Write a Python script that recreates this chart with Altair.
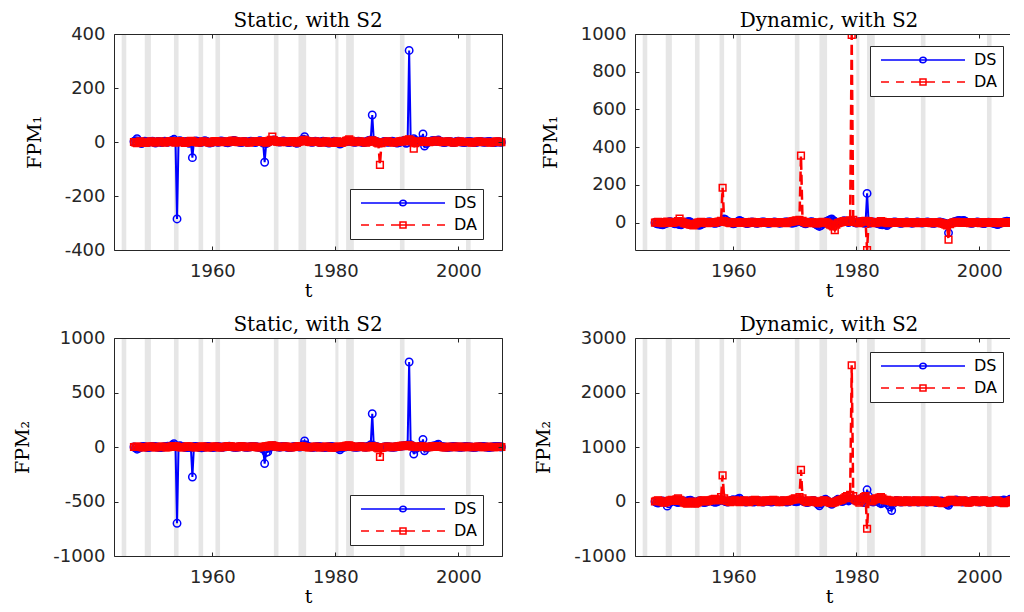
import altair as alt
import pandas as pd

# quarterly time axis 1947.25 ... 2007.00
t = [round(1947.25 + 0.25 * i, 2) for i in range(240)]

# recession bands (shaded)
rec_start = [1945.25, 1949.0, 1953.75, 1957.75, 1960.5, 1970.0, 1974.0, 1980.0, 1981.75, 1990.5, 2001.25]
rec_end = [1946.0, 1950.0, 1954.5, 1958.5, 1961.25, 1970.75, 1975.25, 1980.5, 1983.0, 1991.25, 2002.0]

series_names = ["DS", "DA"]
x_ticks = [1960, 1980, 2000]

# ---- FPM1, static ----
fpm1_static_ds = [
    2, 5, 12, 4, -3, -6, -2, 3, 1, -2, 0, 2, 3, -1, -4, 1, 2, 0, -2, 1,
    3, 1, -1, 2, 4, 6, 10, 4, -285, 3, 5, 2, -1, 0, 2, -3, -5, -2, -58, 2,
    4, 3, 1, -2, -1, 2, 5, 3, 0, -4, -3, -1, 1, 2, 0, -1, 3, 4, 2, 1,
    -2, -3, 0, 1, 3, 6, 4, 2, 0, -1, -2, 1, 2, 0, -1, 1, 3, 2, 0, -2,
    1, 3, 5, 2, -4, -75, -6, -3, 2, 4, 6, 8, 5, 3, 1, 0, 2, 4, 3, 1,
    -1, -2, 0, 2, 1, -3, -5, -2, 3, 6, 10, 20, 8, 4, 2, 0, -1, 1, 3, 2,
    0, -2, 1, 3, 2, 0, -3, -4, -2, 1, 3, 2, -1, -4, -8, -5, -2, 1, 3, 2,
    4, 3, 1, 0, -1, 2, 3, 1, 0, -2, -1, 1, 4, 6, 8, 100, 6, 3, 1, -1,
    -3, -2, 0, 2, 1, -1, 0, 2, 3, 1, -2, -4, -3, -1, 2, 4, 6, -5, -3, 339,
    8, 5, 12, 6, 2, 0, 3, 8, 30, -15, -6, -2, 1, 3, 5, 6, 4, 2, 8, 3,
    1, -1, -2, 0, 1, 2, 1, -1, -2, 0, 2, 3, 1, 0, -1, -2, 0, 1, 2, 1,
    0, -1, -2, -1, 1, 2, 1, 0, -1, 0, 1, 2, 1, -1, -2, -1, 0, 1, 0, -1,
]
fpm1_static_da = [
    0, -2, -4, -1, 2, 1, -1, -3, -2, 0, 1, 2, 1, -1, -2, 0, 1, 2, 0, -1,
    -2, 0, 1, 2, 3, 1, -1, -2, 0, 2, 3, 1, -1, -3, -2, 0, 2, 4, 3, 1,
    0, -1, -2, 0, 1, 2, 1, 0, -1, -2, -1, 1, 2, 3, 1, 0, -1, 0, 2, 1,
    0, -1, 1, 3, 5, 4, 2, 0, -1, 0, 1, 2, 1, 0, -1, -2, 0, 1, 2, 1,
    0, 1, 2, 3, 1, -1, -2, 0, 4, 8, 20, 6, 3, 1, 0, -1, 1, 2, 1, 0,
    -1, 0, 2, 3, 1, -1, -2, 0, 2, 4, 6, 8, 4, 2, 0, -1, 0, 1, 2, 1,
    0, -1, -2, -1, 1, 2, 1, -1, -2, -3, -1, 1, 2, 1, -2, -3, -1, 1, 4, 6,
    10, 5, 2, 0, -1, 0, 1, 2, 1, 0, -1, -2, 0, 2, 4, 6, 3, 1, -2, -5,
    -85, -4, -1, 0, 1, 2, 1, 0, -1, -2, -1, 0, 1, 2, 3, 4, 2, 5, 8, 10,
    6, 3, -25, -4, 0, 2, 1, 0, 3, 2, 1, 0, -1, 0, 2, 3, 4, 5, 3, 1,
    0, -1, 0, 1, 2, 1, 0, -1, -2, -1, 0, 1, 2, 1, 0, -1, 0, 1, 0, -1,
    -2, -1, 0, 1, 2, 1, 0, -1, 0, 1, 0, -1, -2, -1, 0, 1, 2, 1, 0, -1,
]

# ---- FPM1, dynamic ----
fpm1_dynamic_ds = [
    0, -5, -8, -6, -10, -12, -8, -4, -2, 3, 5, 2, -3, -6, -4, -8, -10, -12, -6, -2,
    2, 4, 6, 3, -2, -5, -8, -10, -12, -14, -10, -6, -3, 0, 2, 4, 3, 1, -2, -4,
    -2, 0, 3, 6, 10, 20, 15, 8, 4, 2, -3, -6, -4, 0, 6, 12, 8, 4, 0, -3,
    -5, -2, 0, 3, 2, -1, -4, -3, 0, 2, 4, 3, 1, -2, -4, -2, 0, 2, 3, 1,
    -1, -3, -2, 0, 2, 4, 3, 1, -1, -3, -2, 0, 3, 6, 8, 4, 0, -4, -6, -3,
    0, 3, 5, 2, -5, -10, -15, -20, -15, -8, -2, 4, 8, 12, 16, 20, 12, 6, 2, -2,
    0, 4, 6, 10, 8, 4, 0, 6, 10, 4, 0, -2, 2, 5, 4, 0, -4, -2, 155, 0,
    -3, 2, 4, 1, -2, -5, -8, -10, -12, -10, -12, -15, -8, -4, 0, 2, 4, 2, 0, -2,
    -4, -2, 0, 2, 3, 1, -1, -3, -2, 0, 2, 3, 1, -1, -2, 0, 1, 3, 2, 0,
    -2, -4, -3, -1, 1, 3, 2, 0, -2, -4, -8, -54, -6, -2, 2, 5, 8, 10, 12, 8,
    10, 12, 6, 2, 0, -2, -4, -2, 0, 2, 3, 1, -1, -3, -5, -3, 0, 2, 1, -1,
    -3, -5, -8, -10, -6, -2, 0, 3, 5, 8, 6, 3, 0, -2, -4, -2, 0, 2, 4, 2,
]
fpm1_dynamic_da = [
    0, 2, 4, 2, 0, -2, 0, 3, 5, 3, 1, -1, 0, 2, 4, 8, 22, 6, 2, -2,
    -4, -6, -8, -10, -12, -15, -8, -4, 0, 2, 4, 3, 1, 0, -2, 0, 2, 3, 1, 0,
    2, 4, 6, 10, 185, 8, 4, 2, 0, -2, 0, 2, 3, 1, 0, -1, 1, 3, 2, 0,
    -2, 0, 2, 4, 3, 1, 0, -2, 0, 2, 3, 1, 0, -1, 1, 2, 1, 0, -2, -1,
    0, 2, 3, 1, 0, -2, 0, 2, 4, 6, 8, 10, 12, 8, 15, 355, 10, 4, 0, -2,
    0, 2, 3, 1, -2, -4, -2, 0, 2, 4, 3, 1, 0, -5, -10, -15, -20, -40, -10, -2,
    0, 3, 5, 8, 10, 6, 4, 12, 995, 15, 6, 2, 0, -2, 3, 6, 8, 10, -145, 8,
    4, 2, 0, -2, -1, 2, 4, 8, 6, 3, 1, 0, -2, 0, 2, 3, 1, 0, -1, 1,
    2, 1, 0, -2, -1, 1, 2, 1, 0, -1, -2, 0, 2, 1, 0, -1, 1, 2, 1, 0,
    -2, -1, 0, 2, 1, 0, -2, -4, -6, -10, -15, -90, -8, -2, 0, 2, 4, 3, 1, 0,
    -1, 0, 2, 1, 0, -2, -1, 1, 2, 1, 0, -1, -2, 0, 2, 1, 0, -1, 0, 1,
    2, 1, 0, -1, -2, -1, 0, 1, 2, 1, 0, -1, 0, 1, 2, 1, 0, -1, -2, -4,
]

# ---- FPM2, static ----
fpm2_static_ds = [
    0, -8, -20, -12, -5, 2, 6, 3, -2, -5, -3, 0, 4, 6, 3, 0, -3, -6, -4, 0,
    3, 5, 8, 6, 10, 18, 30, 12, -700, 8, 12, 6, 2, -3, -6, -4, 0, -5, -275, 4,
    6, 3, -2, -6, -8, -4, 0, 3, 5, 2, -2, -5, -3, 0, 4, 2, 0, -3, -2, 1,
    3, 5, 8, 4, 0, -2, -4, -2, 0, 3, 5, 3, 0, -3, -2, 0, 2, 4, 6, 3,
    0, -2, -6, -10, -20, -152, -50, -45, -10, 4, 8, 12, 6, 3, 0, -2, 2, 5, 4, 0,
    -3, -6, -4, 0, 3, 6, 4, 2, 0, 8, 20, 55, 18, 6, 2, -2, -4, -2, 0, 2,
    4, 2, 0, -3, -5, -3, 0, 2, 4, 2, 0, -4, -8, -12, -25, -10, -4, 0, 3, 6,
    10, 6, 2, 0, -3, -2, 0, 2, 4, 2, 0, -2, 5, 10, 20, 305, 12, 6, 2, -2,
    -6, -4, -2, 0, 2, 3, 1, -1, -3, -2, 0, 2, 4, 6, 8, 10, 12, 15, 18, 780,
    20, 12, -65, -20, -5, 0, 6, 12, 70, -35, -10, -3, 0, 4, 8, 10, 12, 18, 25, 10,
    4, 2, 0, -2, -4, -2, 0, 2, 4, 3, 1, -1, -3, -2, 0, 2, 4, 3, 1, 0,
    -2, -4, -3, -1, 1, 3, 5, 4, 2, 0, -2, -4, -2, 0, 2, 4, 6, 4, 2, 0,
]
fpm2_static_da = [
    0, 2, 4, 2, 0, -2, -4, -2, 0, 2, 4, 3, 1, -1, -3, -2, 0, 2, 3, 1,
    -1, -3, -2, 0, 3, 5, 8, 6, 3, 0, -2, -4, -2, 0, 3, 5, 4, 2, 0, -2,
    -4, -2, 0, 2, 4, 3, 1, -1, -3, -2, 0, 2, 4, 3, 1, -1, -3, -2, 0, 2,
    4, 6, 8, 5, 2, 0, -2, -1, 1, 3, 5, 3, 1, -1, -2, 0, 2, 4, 3, 1,
    -1, -3, -2, 0, 2, 4, 6, 8, 10, 12, 15, 10, 6, 3, 0, -2, 0, 2, 4, 3,
    1, -1, -3, -2, 0, 2, 4, 6, 8, 6, 4, 2, 0, -2, -4, -2, 0, 2, 3, 1,
    -1, -3, -2, 0, 2, 3, 1, -1, -3, -5, -3, -1, 1, 3, 2, 0, 2, 6, 10, 12,
    15, 8, 3, 0, -2, 0, 2, 4, 3, 1, -1, -3, -2, 0, 3, 6, 4, 2, -5, -12,
    -90, -8, -3, 0, 2, 3, 1, -1, -2, 0, 2, 4, 6, 8, 10, 12, 10, 8, 12, 15,
    10, 6, 3, 0, -2, 0, 3, 5, 4, 2, 0, -2, -1, 1, 3, 5, 6, 8, 5, 2,
    0, -2, -3, -1, 1, 2, 1, 0, -2, -1, 1, 3, 2, 0, -2, -1, 1, 2, 1, 0,
    -1, -2, 0, 2, 3, 1, 0, -1, -2, 0, 1, 2, 1, 0, -1, -2, 0, 1, 2, 0,
]

# ---- FPM2, dynamic ----
fpm2_dynamic_ds = [
    0, -20, -30, -15, 5, 10, 0, -20, -85, -40, -10, 10, 20, 5, -10, -20, -5, 10, 15, 5,
    -5, 10, 20, 25, 10, -10, -25, -15, 0, 15, 5, -10, -20, -15, 0, 10, 20, 10, -5, -15,
    -10, 5, 20, 30, 25, 10, 0, -10, -5, 10, 25, 35, 20, 30, 45, 60, 30, 10, 0, -10,
    -5, 5, 10, 0, -10, -5, 5, 15, 10, 0, -10, -5, 5, 10, 5, -5, -10, 0, 10, 5,
    0, -5, 5, 10, 5, -5, -10, 0, 10, 15, 10, 0, -5, 5, 15, 20, 10, 0, -10, -20,
    -10, 0, 10, 20, 10, -20, -50, -80, -40, 0, 30, 40, 20, -10, -30, -50, -30, 0, 20, 40,
    30, 10, 0, 20, 40, 30, 10, 30, 50, 40, 20, 10, 30, 40, 20, 0, -20, 60, 215, 100,
    20, 0, -10, 10, 20, 10, -20, -40, -30, 0, 10, -20, -60, -100, -165, -40, 0, 20, 10, 0,
    -10, -5, 5, 10, 5, -5, -10, 0, 10, 5, 0, -10, -5, 5, 10, 5, -5, -10, 0, 10,
    5, 0, -10, -20, -10, 0, 10, 5, -10, -30, -50, -70, -30, 0, 10, 20, 30, 20, 10, 0,
    -10, 0, 10, 5, -5, -10, 0, 10, 20, 10, 0, -10, -5, 5, 10, 5, -5, -10, -5, 5,
    10, 5, 0, -10, -5, 10, 20, 30, 20, 10, 25, 40, 20, 10, 30, 50, 60, 40, 20, 10,
]
fpm2_dynamic_da = [
    0, 10, 20, 10, 0, -10, -20, -10, 0, 10, 20, 30, 20, 10, 40, 60, 30, 10, 0, -20,
    -30, -40, -20, -10, 0, -20, -40, -30, -10, 0, 10, 20, 15, 5, 0, 10, 20, 30, 40, 50,
    30, 20, 40, 80, 480, 60, 20, 10, 0, -10, 0, 10, 20, 10, 0, -10, 0, 10, 20, 10,
    0, -10, 0, 10, 20, 30, 20, 10, 0, -10, 0, 10, 20, 10, 0, 10, 20, 30, 20, 10,
    0, -10, 0, 10, 20, 10, 0, 10, 20, 30, 40, 60, 50, 40, 80, 580, 60, 20, 0, -10,
    0, 10, 20, 10, 0, -10, -20, -10, 0, 10, 20, 10, 0, -10, -20, -30, -20, -10, 0, 10,
    20, 30, 40, 60, 80, 100, 60, 120, 2500, 100, 40, 20, 0, -20, 20, 60, 80, 100, -500, 40,
    20, 0, 20, 40, 60, 50, 70, 80, 60, 30, 20, 30, 20, 10, 0, -10, 0, 10, 20, 10,
    0, -10, 0, 10, 20, 10, 0, -10, 0, 10, 20, 10, 0, -10, 0, 10, 20, 10, 0, -10,
    0, 10, 20, 10, 0, -10, -20, -30, -20, -10, 0, 10, 20, 30, 20, 10, 0, -10, 0, 10,
    20, 10, 0, -10, -20, -10, 0, 10, 20, 10, 0, -10, 0, 10, 20, 10, 0, -10, -20, -10,
    0, 10, 20, 10, 0, -10, -20, -30, -20, -10, 0, 10, 20, 10, 0, -20, -40, -60, -80, -100,
]

for name, arr in [("fpm1_static_ds", fpm1_static_ds), ("fpm1_static_da", fpm1_static_da),
                  ("fpm1_dynamic_ds", fpm1_dynamic_ds), ("fpm1_dynamic_da", fpm1_dynamic_da),
                  ("fpm2_static_ds", fpm2_static_ds), ("fpm2_static_da", fpm2_static_da),
                  ("fpm2_dynamic_ds", fpm2_dynamic_ds), ("fpm2_dynamic_da", fpm2_dynamic_da)]:
    if len(arr) != len(t):
        raise ValueError(f"{name} has {len(arr)} values")

BLUE = "#0000ff"
RED = "#ff0000"
AXC = "#262626"

# legend symbols: line + marker (MATLAB style), in symbol units (1 unit = 5 px)
LEG_DS = "M-8.4,0L8.4,0M-0.65,0A0.65,0.55,0,1,0,0.65,0A0.65,0.55,0,1,0,-0.65,0"
LEG_DA = ("M-8.4,0L-6.8,0M-5.4,0L-3.8,0M-2.4,0L2.4,0M3.8,0L5.4,0M6.8,0L8.4,0"
          "M-0.6,-0.6L0.6,-0.6L0.6,0.6L-0.6,0.6Z")
LEG_SHAPE_EXPR = f"datum.value === 'DS' ? '{LEG_DS}' : '{LEG_DA}'"

NEG_TICK = {"expr": "-4"}
LEFT_W, RIGHT_W = 388, 375
LEFT_DOM = [1944, 2007.1]
RIGHT_DOM = [1944, 2005.0]


def panel(title, ytitle, ds, da, ydom, yvals, lx, ly, height, left_col):
    df = pd.DataFrame({
        "t": t + t,
        "v": ds + da,
        "series": [series_names[0]] * len(t) + [series_names[1]] * len(t),
    })
    bands = pd.DataFrame({"s": rec_start, "e": rec_end})
    xs = alt.Scale(domain=LEFT_DOM if left_col else RIGHT_DOM, nice=False, zero=False)
    ys = alt.Scale(domain=ydom, nice=False, zero=False)
    clip = not left_col
    width = LEFT_W if left_col else RIGHT_W

    extra = {} if left_col else {"titleX": 194}
    x_bottom = alt.Axis(orient="bottom", values=x_ticks, format="d", title="t",
                        domain=True, ticks=True, tickSize=NEG_TICK, zindex=1,
                        labelPadding=16, titlePadding=1, **extra)
    x_top = alt.Axis(orient="top", values=x_ticks, labels=False, title=None,
                     domain=True, ticks=True, tickSize=NEG_TICK, zindex=1)
    y_left = alt.Axis(orient="left", values=yvals, title=ytitle,
                      domain=True, ticks=True, tickSize=NEG_TICK, zindex=1,
                      labelExpr="toString(datum.value)", labelPadding=13, titlePadding=20)
    y_right = alt.Axis(orient="right", values=yvals, labels=False, title=None,
                       domain=True, ticks=True, tickSize=NEG_TICK, zindex=1)

    legend = alt.Legend(
        orient="none", legendX=lx, legendY=ly, title=None,
        fillColor="white", strokeColor=AXC, padding=6, rowPadding=6,
        symbolSize=100, symbolOffset=39, labelOffset=43,
        symbolType={"expr": LEG_SHAPE_EXPR},
        symbolFillColor="transparent", symbolStrokeWidth=1.5,
        labelFont="DejaVu Sans", labelFontSize=16, labelColor="#000000",
        labelExpr="datum.label + '  '", zindex=2,
    )

    band_layer = alt.Chart(bands).mark_rect(color="#e6e6e6", clip=True).encode(
        x=alt.X("s:Q", scale=xs, axis=None), x2="e:Q")

    base_ds = alt.Chart(df).transform_filter("datum.series === 'DS'")
    base_da = alt.Chart(df).transform_filter("datum.series === 'DA'")

    ds_line = base_ds.mark_line(strokeWidth=2, clip=clip).encode(
        x=alt.X("t:Q", scale=xs, axis=x_bottom),
        y=alt.Y("v:Q", scale=ys, axis=y_left),
        color=alt.Color("series:N", scale=alt.Scale(domain=series_names, range=[BLUE, RED]),
                        legend=legend),
    )
    if left_col:
        y_pts = alt.Y("v:Q", scale=ys, axis=y_right)
        y_other = alt.Y("v:Q", scale=ys, axis=None)
    else:
        y_pts = alt.Y("v:Q", scale=ys)
        y_other = alt.Y("v:Q", scale=ys)
    ds_pts = base_ds.mark_point(shape="circle", filled=False, size=55, strokeWidth=1.5,
                                color=BLUE, opacity=1, clip=clip).encode(
        x=alt.X("t:Q", scale=xs, axis=x_top), y=y_pts)
    da_line = base_da.mark_line(strokeWidth=2.5, strokeDash=[10, 5], color=RED,
                                clip=clip).encode(
        x=alt.X("t:Q", scale=xs, axis=None), y=y_other)
    da_pts = base_da.mark_point(shape="square", filled=False, size=45, strokeWidth=1.5,
                                color=RED, opacity=1, clip=clip).encode(
        x=alt.X("t:Q", scale=xs, axis=None), y=y_other)
    ttl = alt.Title(title, font="DejaVu Serif", fontSize=20, fontWeight="normal",
                    color="#000000", offset=-6, anchor="middle", frame="group",
                    **({} if left_col else {"dx": 6.5}))
    return alt.layer(band_layer, ds_line, ds_pts, da_line, da_pts).properties(
        width=width, height=height, title=ttl)


tl = panel("Static, with S2", "FPM\u2081", fpm1_static_ds, fpm1_static_da,
           [-400, 400], [-400, -200, 0, 200, 400], 236, 155, 216, True)
tr = panel("Dynamic, with S2", "FPM\u2081", fpm1_dynamic_ds, fpm1_dynamic_da,
           [-145, 1000], [0, 200, 400, 600, 800, 1000], 235, 12, 216, False)
bl = panel("Static, with S2", "FPM\u2082", fpm2_static_ds, fpm2_static_da,
           [-1000, 1000], [-1000, -500, 0, 500, 1000], 236, 157, 218, True)
br = panel("Dynamic, with S2", "FPM\u2082", fpm2_dynamic_ds, fpm2_dynamic_da,
           [-1000, 3000], [-1000, 0, 1000, 2000, 3000], 235, 14, 218, False)

chart = alt.concat(tl, tr, bl, br, columns=2, spacing={"row": 88, "column": 133},
                   bounds="flush").resolve_scale(color="independent").properties(
    padding={"left": 5, "top": 3, "right": 0, "bottom": 0},
    background="white",
).configure_view(stroke=None).configure_axis(
    labelFont="DejaVu Sans", labelFontSize=18, labelColor=AXC,
    domainColor=AXC, domainWidth=1, tickColor=AXC, tickWidth=1, grid=False,
    titleFont="DejaVu Serif", titleFontSize=19, titleFontWeight="normal", titleColor="#000000",
)

chart.save("out.html", embed_options={"renderer": "svg", "actions": False})
